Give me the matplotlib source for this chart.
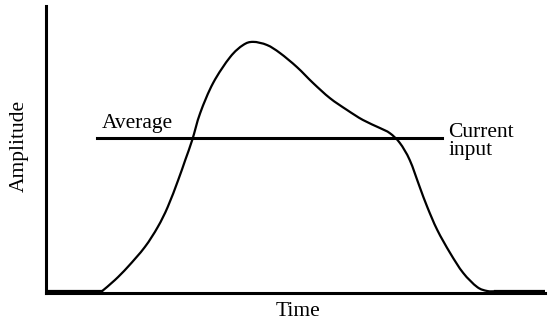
import matplotlib
matplotlib.use('Agg')
import matplotlib.pyplot as plt
import numpy as np
from matplotlib.path import Path
from matplotlib.patches import PathPatch

# Current input pulse (time, amplitude), both on a 0-100 scale
pulse_time = [11.2, 13.8, 16.4, 19.8, 22.4, 24.4, 26.5, 27.9, 29.3, 30.9, 33.5, 36.9,
              39.5, 41.5, 44.3, 46.9, 50.3, 53.5, 56.9, 60.3, 63.5, 66.9, 68.9, 70.9,
              72.9, 74.9, 76.4, 78.4, 81.0, 83.6, 86.4, 88.4, 90.0]
pulse_amp = [0.6, 4.5, 9.1, 16.0, 23.0, 30.0, 39.4, 46.3, 53.3, 62.7, 73.2, 82.2,
             86.4, 87.5, 86.4, 83.6, 78.7, 73.2, 67.9, 63.8, 60.3, 57.5, 55.7, 52.3,
             46.3, 36.9, 30.0, 22.0, 13.9, 7.0, 2.1, 0.7, 0.6]

# Idle level before and after the pulse
idle_level = 0.6
idle_before = [0, 11.2]
idle_after = [90.0, 100]

# Average level and its extent
average_level = 54.0
average_span = [10.2, 79.4]

plt.rcParams['font.family'] = ['Liberation Serif', 'DejaVu Serif']


def smooth_path(xs, ys):
    # Catmull-Rom through the points, written as cubic Bezier segments
    pts = np.column_stack([xs, ys])
    verts = [pts[0]]
    codes = [Path.MOVETO]
    for i in range(len(pts) - 1):
        p0 = pts[max(i - 1, 0)]
        p1 = pts[i]
        p2 = pts[i + 1]
        p3 = pts[min(i + 2, len(pts) - 1)]
        c1 = p1 + (p2 - p0) / 6
        c2 = p2 - (p3 - p1) / 6
        verts += [c1, c2, p2]
        codes += [Path.CURVE4] * 3
    return Path(verts, codes)


fig = plt.figure(figsize=(5.49, 3.24), dpi=100)
ax = fig.add_axes([46 / 549, (324 - 293) / 324, (545 - 46) / 549, (293 - 6) / 324])
ax.set_xlim(0, 100)
ax.set_ylim(0, 100)

lw = 1.6
ax.add_patch(PathPatch(smooth_path(pulse_time, pulse_amp), facecolor='none',
                       edgecolor='black', linewidth=lw))
ax.plot(idle_before, [idle_level, idle_level], color='black', linewidth=lw)
ax.plot(idle_after, [idle_level, idle_level], color='black', linewidth=lw)
ax.plot(average_span, [average_level, average_level], color='black', linewidth=2.2)

for side in ['top', 'right']:
    ax.spines[side].set_visible(False)
for side in ['left', 'bottom']:
    ax.spines[side].set_linewidth(2.2)
ax.set_xticks([])
ax.set_yticks([])

fs = 15.5
ax.text(11.2, 57.5, 'Average', fontsize=fs, va='baseline', ha='left')
ax.text(80.6, 54.4, 'Current', fontsize=fs, va='baseline', ha='left', clip_on=False)
ax.text(80.6, 48.1, 'input', fontsize=fs, va='baseline', ha='left', clip_on=False)
ax.text(50.5, -6.3, 'Time', fontsize=fs, va='center', ha='center', clip_on=False)
ax.text(-5.4, 51.2, 'Amplitude', fontsize=fs, va='center', ha='center', rotation=90, clip_on=False)

fig.savefig('out.png', dpi=100)
